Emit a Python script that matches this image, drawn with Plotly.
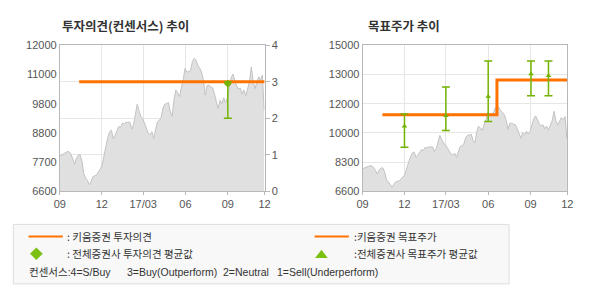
import pandas as pd
import plotly.graph_objects as go

# ---------------- data ----------------
# share price, sampled every 4 calendar days from 2016-09-01
price_start = "2016-09-01"
price_step = "4D"
price_values = [
    7900, 7950, 7990, 8030, 8070, 8060, 7970, 7800, 7595, 7820,
    7930, 7950, 7700, 7250, 7085, 7000, 6850, 6970, 7150, 7170,
    7210, 7330, 7420, 7580, 8000, 8260, 8580, 8800, 8860, 8550,
    8670, 8850, 9000, 8955, 9125, 9100, 9150, 9150, 9160, 8900,
    9060, 9430, 9820, 9580, 9370, 9290, 9100, 8950, 8750, 8690,
    8800, 8560, 8900, 9170, 9220, 9330, 9680, 9820, 9850, 9880,
    9540, 9380, 10000, 10350, 10240, 10100, 10440, 10720, 11150, 11010,
    11030, 11060, 11400, 11520, 11440, 11250, 11150, 11010, 10700, 10160,
    10510, 10520, 10460, 10430, 10200, 9950, 9650, 9970, 9840, 10060,
    9890, 10050, 10500, 10780, 10940, 10700, 10500, 10380, 10420, 10200,
    10350, 10120, 10420, 10660, 11200, 10680, 10400, 10675, 10840, 10720,
    10900, 9610,
]
price_dates = pd.date_range(price_start, periods=len(price_values), freq=price_step)

x_range = ["2016-09-01", "2017-11-20"]
x_tick_vals = ["2016-09-01", "2016-12-01", "2017-03-01", "2017-06-01", "2017-09-01", "2017-11-20"]
x_tick_text = ["09", "12", "17/03", "06", "09", "12"]

# left chart: investment opinion
opinion_dates = ["2016-10-13", "2017-11-20"]
opinion_values = [3, 3]
op_avg_dates = ["2017-09-01"]
op_avg = [2.95]
op_high = [3.0]
op_low = [2.0]
left_price_ticks = [6600, 7680, 8760, 9840, 10920, 12000]
left_price_text = ["6600", "7700", "8800", "9800", "11000", "12000"]
opinion_ticks = [0, 1, 2, 3, 4]

# right chart: target price
target_dates = ["2016-10-14", "2017-06-20", "2017-06-20", "2017-11-20"]
target_values = [11000, 11000, 13000, 13000]
tp_avg_dates = ["2016-12-01", "2017-03-01", "2017-06-01", "2017-09-02", "2017-10-10"]
tp_avg = [10350, 10950, 12050, 13350, 13250]
tp_high = [11050, 12600, 14100, 14100, 14100]
tp_low = [9130, 10100, 10620, 12100, 12100]
right_price_ticks = [6600, 8280, 9960, 11640, 13320, 15000]
right_price_text = ["6600", "8300", "10000", "12000", "13000", "15000"]

# ---------------- styling ----------------
W, H = 590, 300
ORANGE = "#ff7200"
GREEN = "#74b300"
AREA_FILL = "#e0e0e0"
AREA_LINE = "#c2c2c2"
GRID = "#e6e6e6"
FRAME = "#b8b8b8"
TXT = "#555555"
FONT = "Liberation Sans"
KFONT = "Noto Sans CJK KR"

def px_x(p):
    return p / W

def px_y(p):
    return 1 - p / H

L_X0, L_X1 = 55, 264
R_X0, R_X1 = 364, 573
P_Y0, P_Y1 = 41, 193

fig = go.Figure()

# left chart price area
fig.add_trace(go.Scatter(x=price_dates, y=price_values, mode="lines", fill="tozeroy",
                         fillcolor=AREA_FILL, line=dict(color=AREA_LINE, width=1),
                         xaxis="x", yaxis="y", hoverinfo="skip"))
# left opinion line
fig.add_trace(go.Scatter(x=opinion_dates, y=opinion_values, mode="lines",
                         line=dict(color=ORANGE, width=3), xaxis="x", yaxis="y2"))
# left opinion average with range
fig.add_trace(go.Scatter(x=op_avg_dates, y=op_avg, mode="markers",
                         marker=dict(symbol="diamond", size=6, color=GREEN),
                         error_y=dict(type="data", symmetric=False,
                                      array=[h - a for h, a in zip(op_high, op_avg)],
                                      arrayminus=[a - l for a, l in zip(op_avg, op_low)],
                                      color=GREEN, thickness=1.5, width=4),
                         xaxis="x", yaxis="y2"))

# right chart price area
fig.add_trace(go.Scatter(x=price_dates, y=price_values, mode="lines", fill="tozeroy",
                         fillcolor=AREA_FILL, line=dict(color=AREA_LINE, width=1),
                         xaxis="x2", yaxis="y3", hoverinfo="skip"))
# right target price line
fig.add_trace(go.Scatter(x=target_dates, y=target_values, mode="lines",
                         line=dict(color=ORANGE, width=3), xaxis="x2", yaxis="y3"))
# right target average with range
fig.add_trace(go.Scatter(x=tp_avg_dates, y=tp_avg, mode="markers",
                         marker=dict(symbol="triangle-up", size=5, color=GREEN),
                         error_y=dict(type="data", symmetric=False,
                                      array=[h - a for h, a in zip(tp_high, tp_avg)],
                                      arrayminus=[a - l for a, l in zip(tp_avg, tp_low)],
                                      color=GREEN, thickness=1.5, width=4),
                         xaxis="x2", yaxis="y3"))

tickfont = dict(family=FONT, size=11, color=TXT)
xcommon = dict(type="date", range=x_range, tickmode="array", tickvals=x_tick_vals,
               ticktext=x_tick_text, showgrid=True, gridcolor=GRID, gridwidth=1,
               showline=True, linecolor=FRAME, linewidth=1, mirror=True,
               ticks="outside", ticklen=3, tickcolor=FRAME, tickfont=tickfont,
               zeroline=False, fixedrange=True)

ydomain = [px_y(P_Y1), px_y(P_Y0)]

fig.update_layout(
    width=W, height=H,
    margin=dict(l=0, r=0, t=0, b=0),
    paper_bgcolor="white", plot_bgcolor="white",
    showlegend=False,
    xaxis=dict(domain=[px_x(L_X0), px_x(L_X1)], anchor="y", **xcommon),
    yaxis=dict(domain=ydomain, range=[6600, 12000], tickmode="array",
               tickvals=left_price_ticks, ticktext=left_price_text,
               showgrid=False, showline=True, linecolor=FRAME, mirror=True,
               ticks="", tickfont=tickfont, zeroline=False, anchor="x"),
    yaxis2=dict(domain=ydomain, range=[0, 4], tickmode="array", tickvals=opinion_ticks,
                overlaying="y", side="right", anchor="x", showgrid=True, gridcolor=GRID,
                ticks="outside", ticklen=4, tickcolor=FRAME, tickfont=tickfont,
                zeroline=False, showline=False),
    xaxis2=dict(domain=[px_x(R_X0), px_x(R_X1)], anchor="y3", **xcommon),
    yaxis3=dict(domain=ydomain, range=[6600, 15000], tickmode="array",
                tickvals=right_price_ticks, ticktext=right_price_text,
                showgrid=True, gridcolor=GRID, showline=True, linecolor=FRAME, mirror=True,
                ticks="", tickfont=tickfont, zeroline=False, anchor="x2"),
)

# titles
fig.add_annotation(text="<b>투자의견(컨센서스) 추이</b>", x=px_x(55), y=px_y(20),
                   xref="paper", yref="paper", xanchor="left", yanchor="middle",
                   showarrow=False, font=dict(family=KFONT, size=12.5, color="#333333"))
fig.add_annotation(text="<b>목표주가 추이</b>", x=px_x(367), y=px_y(20),
                   xref="paper", yref="paper", xanchor="left", yanchor="middle",
                   showarrow=False, font=dict(family=KFONT, size=12.5, color="#333333"))

# legend box
fig.add_shape(type="rect", xref="paper", yref="paper",
              x0=px_x(7.5), x1=px_x(513.5), y0=px_y(289.5), y1=px_y(227.5),
              line=dict(color="#dddddd", width=1), fillcolor="#f8f8f8", layer="below")
# orange line samples
for x0, x1 in [(23, 58), (315, 350)]:
    fig.add_shape(type="line", xref="paper", yref="paper",
                  x0=px_x(x0), x1=px_x(x1), y0=px_y(240), y1=px_y(240),
                  line=dict(color=ORANGE, width=2))
# diamond sample
cx, cy, r = 31, 258, 6.5
fig.add_shape(type="path", xref="paper", yref="paper",
              path=f"M {px_x(cx)} {px_y(cy - r)} L {px_x(cx + r)} {px_y(cy)} "
                   f"L {px_x(cx)} {px_y(cy + r)} L {px_x(cx - r)} {px_y(cy)} Z",
              fillcolor="#7cc014", line=dict(width=0))
# triangle sample
tx, ty = 322, 258
fig.add_shape(type="path", xref="paper", yref="paper",
              path=f"M {px_x(tx)} {px_y(ty - 4)} L {px_x(tx + 6.5)} {px_y(ty + 4.5)} "
                   f"L {px_x(tx - 6.5)} {px_y(ty + 4.5)} Z",
              fillcolor="#7cc014", line=dict(width=0))

legend_font = dict(family=KFONT, size=10.5, color="#333333")
row3_font = dict(family="Liberation Sans, Noto Sans CJK KR", size=10.5, color="#333333")
legend_texts = [
    (60, 240, ": 키움증권 투자의견", legend_font),
    (353, 240, ":키움증권 목표주가", legend_font),
    (60, 258, ": 전체증권사 투자의견 평균값", legend_font),
    (353, 258, ":전체증권사 목표주가 평균값", legend_font),
    (21, 277, "컨센서스:4=S/Buy", row3_font),
    (121, 277, "3=Buy(Outperform)", row3_font),
    (219, 277, "2=Neutral", row3_font),
    (275, 277, "1=Sell(Underperform)", row3_font),
]
for x, y, t, f in legend_texts:
    fig.add_annotation(text=t, x=px_x(x), y=px_y(y), xref="paper", yref="paper",
                       xanchor="left", yanchor="middle", showarrow=False, font=f)

fig.write_html("out.html")
